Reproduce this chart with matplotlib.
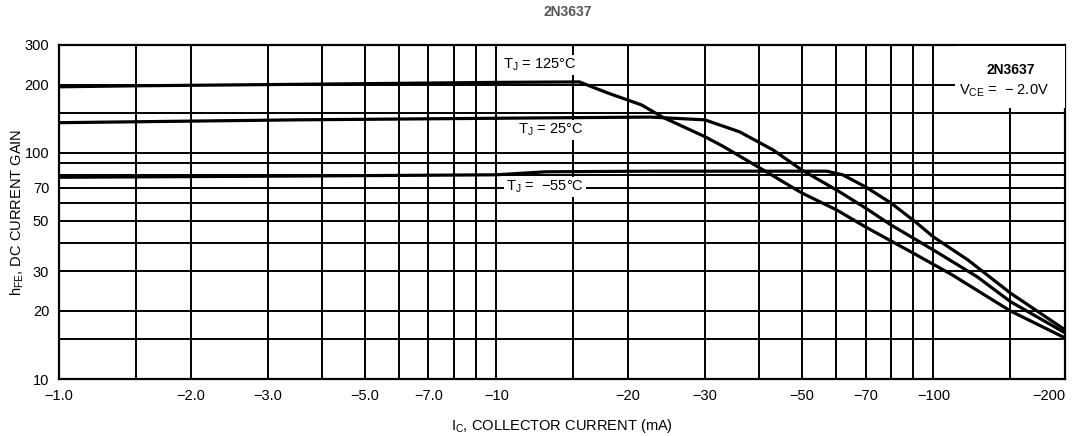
import matplotlib
matplotlib.use("Agg")
import matplotlib.pyplot as plt
from matplotlib.patches import Rectangle

# hFE vs collector current, 2N3637 (VCE = -2.0 V)
ic_125 = [1, 1.5, 3.5, 10, 15.5, 18, 21.5, 24, 30, 33, 40, 50, 60, 70, 90, 110, 150, 200]
hfe_125 = [196, 198, 201, 205, 206, 184, 163, 144, 118, 107, 86, 66.5, 56, 47, 36, 29, 20, 15.2]

ic_25 = [1, 3.5, 14, 22.5, 30, 36, 43, 50, 60, 70, 80, 100, 126, 150, 200]
hfe_25 = [136, 140, 143, 144, 140, 124, 103, 84, 68.6, 57, 48, 37.2, 28.3, 22, 16]

ic_m55 = [1, 3.5, 10, 13, 22.5, 57, 62, 70, 80, 91, 100, 120, 150, 200]
hfe_m55 = [78, 79, 80, 82.5, 83, 83, 80, 70.7, 60, 49.5, 42.5, 33.6, 24, 16.5]

x_labeled = [1, 2, 3, 5, 7, 10, 20, 30, 50, 70, 100, 200]
x_labels = ["\u22121.0", "\u22122.0", "\u22123.0", "\u22125.0", "\u22127.0", "\u221210",
            "\u221220", "\u221230", "\u221250", "\u221270", "\u2212100", "\u2212200"]
x_grid_extra = [1.5, 4, 6, 8, 9, 15, 40, 60, 80, 90, 150]

y_labeled = [10, 20, 30, 50, 70, 100, 200, 300]
y_labels = ["10", "20", "30", "50", "70", "100", "200", "300"]
y_grid_extra = [15, 40, 60, 80, 90, 150]

plt.rcParams['font.family'] = ['Liberation Sans Narrow', 'Liberation Sans', 'DejaVu Sans']
plt.rcParams['mathtext.fontset'] = 'custom'
plt.rcParams['mathtext.rm'] = 'Liberation Sans'
plt.rcParams['mathtext.it'] = 'Liberation Sans'
plt.rcParams['mathtext.default'] = 'regular'

fig = plt.figure(figsize=(10.75, 4.36), dpi=100)
ax = fig.add_axes([0.0549, 0.1307, 0.9358, 0.7661])

ax.set_xscale('log')
ax.set_yscale('log')
ax.set_xlim(1, 200)
ax.set_ylim(10, 300)

ax.set_xticks(x_labeled)
ax.set_xticklabels(x_labels)
ax.set_xticks(x_grid_extra, minor=True)
ax.set_xticklabels([], minor=True)
ax.set_yticks(y_labeled)
ax.set_yticklabels(y_labels)
ax.set_yticks(y_grid_extra, minor=True)
ax.set_yticklabels([], minor=True)
ax.tick_params(which='both', length=0, labelsize=10.5, pad=7)
ax.get_xticklabels()[-1].set_horizontalalignment('right')
ax.get_xticklabels()[-1].set_x(200)
ax.grid(True, which='both', color='black', linewidth=1.4)
ax.set_axisbelow(True)
for s in ax.spines.values():
    s.set_linewidth(1.6)

lw = 2.3
ax.plot(ic_125, hfe_125, color='black', lw=lw, zorder=5)
ax.plot(ic_25, hfe_25, color='black', lw=lw, zorder=5)
ax.plot(ic_m55, hfe_m55, color='black', lw=lw, zorder=5)

wb = dict(facecolor='white', edgecolor='none', pad=1.5)
ax.text(12.6, 245, "T$_J$ = 125\u00b0C", ha='center', va='center', fontsize=10.5, bbox=wb, zorder=4)
ax.text(13.3, 126, "T$_J$ = 25\u00b0C", ha='center', va='center', fontsize=10.5, bbox=wb, zorder=4)
ax.text(12.9, 70.7, "T$_J$ =  \u221255\u00b0C", ha='center', va='center', fontsize=10.5, bbox=wb, zorder=4)

# white block behind the device note in the top right corner
ax.add_patch(Rectangle((0.891, 0.811), 0.109, 0.186, transform=ax.transAxes,
                       facecolor='white', edgecolor='none', zorder=3))
ax.text(150, 233, "2N3637", ha='center', va='center', fontsize=10, fontweight='bold', zorder=4)
ax.text(145, 188, "V$_{CE}$ =  \u2212 2.0V", ha='center', va='center', fontsize=10.5, zorder=4)

ax.set_xlabel("I$_C$, COLLECTOR CURRENT (mA)", fontsize=10.5, labelpad=10)
ax.set_ylabel("h$_{FE}$, DC CURRENT GAIN", fontsize=10.5)
ax.yaxis.set_label_coords(-0.033, 0.5)
fig.text(0.528, 0.972, "2N3637", ha='center', va='center', fontsize=10,
         fontweight='bold', color='#555555')

fig.savefig("out.png", dpi=100)
